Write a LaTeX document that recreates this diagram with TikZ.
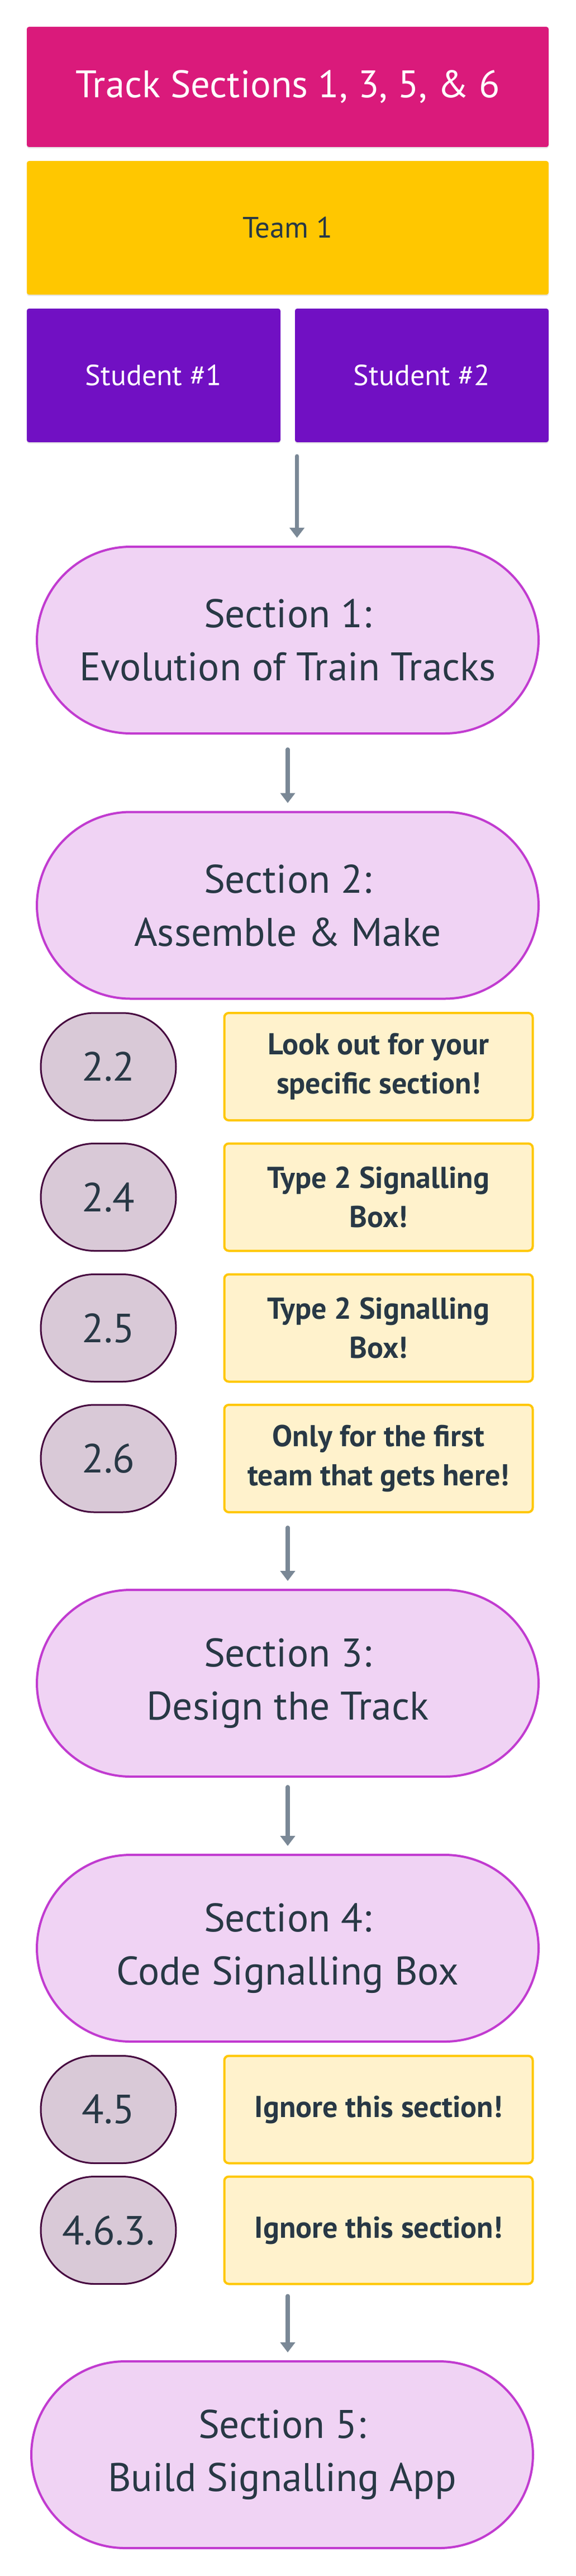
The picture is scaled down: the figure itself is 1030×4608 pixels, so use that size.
\documentclass[tikz,border=0pt]{standalone}
\usepackage{fontspec}
\setmainfont{PT Sans}
\usetikzlibrary{arrows.meta,shadows}
\definecolor{cMag}{HTML}{DA1A7B}
\definecolor{cYel}{HTML}{FFC700}
\definecolor{cPur}{HTML}{7110C3}
\definecolor{cPill}{HTML}{F0D3F4}
\definecolor{cPillB}{HTML}{C13BD0}
\definecolor{cNum}{HTML}{D9C9D7}
\definecolor{cNumB}{HTML}{46083F}
\definecolor{cNote}{HTML}{FFF2CC}
\definecolor{cText}{HTML}{283845}
\definecolor{cArr}{HTML}{7A8896}
\tikzset{
  softshadow/.style={drop shadow={shadow xshift=0pt,shadow yshift=-1.2pt,opacity=0.10,fill=black}},
  hdrbox/.style={fill=cMag, rounded corners=2pt, minimum width=467pt, minimum height=107.5pt, inner sep=0pt, text=white, font=\fontsize{34.3}{40}\selectfont, softshadow},
  teambox/.style={fill=cYel, rounded corners=2pt, minimum width=467pt, minimum height=119.5pt, inner sep=0pt, text=cText, font=\fontsize{26.4}{32}\selectfont, softshadow},
  studbox/.style={fill=cPur, rounded corners=2pt, minimum width=227pt, minimum height=119.5pt, inner sep=0pt, text=white, font=\fontsize{26}{32}\selectfont, softshadow},
  pillbox/.style={draw=cPillB, line width=2pt, fill=cPill, rounded corners=84pt, minimum width=449pt, minimum height=167pt, inner sep=0pt, align=center, text=cText, font=\fontsize{35.7}{47.5}\selectfont},
  numbox/.style={draw=cNumB, line width=1.5pt, fill=cNum, rounded corners=48pt, minimum width=121pt, minimum height=96pt, inner sep=0pt, text=cText, font=\fontsize{36.4}{44}\selectfont},
  notebox/.style={draw=cYel, line width=2pt, fill=cNote, rounded corners=4pt, minimum width=276pt, minimum height=96pt, inner sep=0pt, align=center, text=cText, font=\bfseries\fontsize{27}{35}\selectfont},
  arr/.style={draw=cArr, line width=3.6pt, line cap=round, -{Triangle[length=9pt,width=13pt]}, shorten >=7pt}
}
\begin{document}
\begin{tikzpicture}[x=0.5pt,y=-0.5pt]
\useasboundingbox (0,0) rectangle (1030,4608);
\fill[white] (0,0) rectangle (1030,4608);

\node[hdrbox] (hdr) at (515,155.5) {Track Sections 1, 3, 5, \& 6};
\node[teambox] (team) at (515,407.5) {Team 1};
\node[studbox] (s1) at (275,671.5) {Student \#1};
\node[studbox] (s2) at (755,671.5) {Student \#2};

\node[pillbox] (p1) at (515,1145) {Section 1:\\Evolution of Train Tracks};
\node[pillbox] (p2) at (515,1619.5) {Section 2:\\Assemble \& Make};

\node[numbox] (n22) at (194,1908) {2.2};
\node[notebox] (b22) at (677.5,1908) {Look out for your\\specific section!};
\node[numbox] (n24) at (194,2141.5) {2.4};
\node[notebox] (b24) at (677.5,2141.5) {Type 2 Signalling\\Box!};
\node[numbox] (n25) at (194,2375.5) {2.5};
\node[notebox] (b25) at (677.5,2375.5) {Type 2 Signalling\\Box!};
\node[numbox] (n26) at (194,2609) {2.6};
\node[notebox] (b26) at (677.5,2609) {Only for the first\\team that gets here!};

\node[pillbox] (p3) at (515,3011) {Section 3:\\Design the Track};
\node[pillbox] (p4) at (515,3485) {Section 4:\\Code Signalling Box};

\node[numbox] (n45) at (194,3773.5) {4.5};
\node[notebox] (b45) at (677.5,3773.5) {Ignore this section!};
\node[numbox] (n463) at (194,3989.5) {4.6.3.};
\node[notebox] (b463) at (677.5,3989.5) {Ignore this section!};

\node[pillbox] (p5) at (505,4391) {Section 5:\\Build Signalling App};

\coordinate (aA) at ([xshift=2pt]s2.south west);
\draw[arr, shorten <=12.3pt] (aA) -- (aA |- p1.north);
\draw[arr, shorten <=13.3pt] (p1.south) -- (p2.north);
\draw[arr, shorten <=12.8pt] (b26.south -| p3.north) -- (p3.north);
\draw[arr, shorten <=8.3pt] (p3.south) -- (p4.north);
\draw[arr, shorten <=9.8pt] (b463.south -| p4.south) -- (p4.south |- p5.north);
\end{tikzpicture}
\end{document}
